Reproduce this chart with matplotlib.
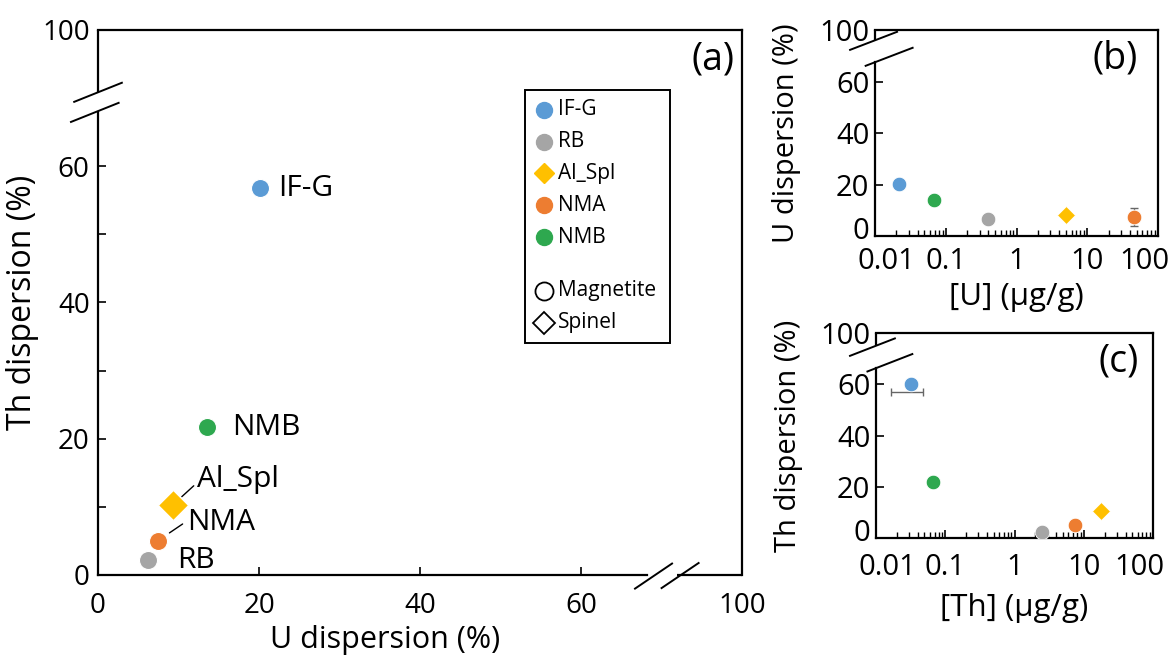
import matplotlib
matplotlib.use('Agg')
import matplotlib.pyplot as plt
from matplotlib.lines import Line2D
from matplotlib.ticker import LogLocator, NullFormatter
from matplotlib.transforms import ScaledTranslation

plt.rcParams['font.family'] = ['Open Sans', 'DejaVu Sans']

# samples and styles
samples = ['IF-G', 'RB', 'Al_Spl', 'NMA', 'NMB']
colors = ['#5B9BD5', '#A5A5A5', '#FFC000', '#ED7D31', '#2EA84F']
markers = ['o', 'o', 'D', 'o', 'o']

# panel (a): Th dispersion vs U dispersion (%)
u_disp = [20.1, 6.2, 9.3, 7.4, 13.5]
th_disp = [56.8, 2.2, 10.3, 5.0, 21.7]

# panel (b): U dispersion vs [U] (ug/g)
u_conc = [0.022, 0.40, 5.0, 46.0, 0.069]
u_disp_b = [20.2, 6.5, 8.1, 7.2, 13.8]
u_conc_err = [0.003, 0, 0, 0, 0]
u_disp_b_err = [0, 0, 0, 3.5, 0]

# panel (c): Th dispersion vs [Th] (ug/g)
th_conc = [0.032, 2.5, 17.8, 7.4, 0.066]
th_disp_c = [60.0, 2.3, 10.5, 5.1, 21.7]
ifg_th_err_y = 57.0
ifg_th_conc_err = 0.0155

disp_ticks = [0, 20, 40, 60, 80]
disp_ticklabels = ['0', '20', '40', '60', '100']
log_ticks = [0.01, 0.1, 1, 10, 100]
log_ticklabels = ['0.01', '0.1', '1', '10', '100']

LW = 1.6


def shift(label, dx, dy):
    label.set_transform(label.get_transform() + ScaledTranslation(dx / 72, dy / 72, fig.dpi_scale_trans))


def break_y(ax, lo, hi, slashes, hw, hh):
    ymin, ymax = ax.get_ylim()
    ax.spines['left'].set_bounds(ymin, lo)
    ax.plot([0, 0], [hi, ymax], transform=ax.get_yaxis_transform(), color='k',
            lw=LW, clip_on=False, solid_capstyle='butt', zorder=5)
    for cx, cy in slashes:
        ax.plot([cx - hw, cx + hw], [cy - hh, cy + hh], transform=ax.get_yaxis_transform(),
                color='k', lw=1.4, clip_on=False, zorder=6)


def break_x(ax, lo, hi, slashes, hw, hh):
    xmin, xmax = ax.get_xlim()
    ax.spines['bottom'].set_bounds(xmin, lo)
    ax.plot([hi, xmax], [0, 0], transform=ax.get_xaxis_transform(), color='k',
            lw=LW, clip_on=False, solid_capstyle='butt', zorder=5)
    for cx, cy in slashes:
        ax.plot([cx - hw, cx + hw], [cy - hh, cy + hh], transform=ax.get_xaxis_transform(),
                color='k', lw=1.4, clip_on=False, zorder=6)


def setup_log(ax, pad):
    ax.set_xscale('log')
    ax.set_xlim(0.01, 100)
    ax.set_xticks(log_ticks)
    ax.set_xticklabels(log_ticklabels)
    ax.xaxis.set_minor_locator(LogLocator(base=10, subs=range(2, 10), numticks=20))
    ax.xaxis.set_minor_formatter(NullFormatter())
    ax.tick_params(axis='x', which='minor', direction='in', length=4, width=1.0)
    ax.tick_params(axis='x', which='major', length=5.5, pad=pad, labelsize=21)
    ax.tick_params(axis='y', pad=4, labelsize=21)
    # edge labels sit a little inside, as in the original
    xl = ax.get_xticklabels()
    shift(xl[0], 8, 0)
    shift(xl[-1], -10, 0)
    shift(ax.get_yticklabels()[0], 0, 6)


fig = plt.figure(figsize=(11.74, 6.6), dpi=100)
ax_a = fig.add_axes([0.0835, 0.1288, 0.5486, 0.8258])
ax_b = fig.add_axes([0.7453, 0.6424, 0.2411, 0.3121])
ax_c = fig.add_axes([0.7462, 0.1848, 0.2360, 0.3106])

for ax in (ax_a, ax_b, ax_c):
    for s in ax.spines.values():
        s.set_linewidth(LW)
    ax.set_ylim(0, 80)
    ax.set_yticks(disp_ticks)
    ax.set_yticklabels(disp_ticklabels)
    ax.tick_params(direction='in', labelsize=20, width=1.2, length=6)

# ---- panel (a)
ax_a.set_xlim(0, 80)
ax_a.set_xticks(disp_ticks)
ax_a.set_xticklabels(disp_ticklabels)
ax_a.set_yticks([10, 30, 50], minor=True)
ax_a.tick_params(axis='y', which='both', direction='in', width=1.2, length=6, pad=6)
ax_a.tick_params(axis='x', pad=12)
for i in range(len(samples)):
    ax_a.plot(u_disp[i], th_disp[i], marker=markers[i], color=colors[i], ls='none',
              ms=15 if markers[i] == 'D' else 13, mec='white', mew=0.8, zorder=4)

label_off = {'IF-G': (13, 0), 'NMB': (18, 0), 'Al_Spl': (17, 18), 'NMA': (21.5, 13.5), 'RB': (21, 0)}
for i, name in enumerate(samples):
    ax_a.annotate(name, (u_disp[i], th_disp[i]), xytext=label_off[name], textcoords='offset points',
                  ha='left', va='center', fontsize=21.5)
leaders = {'Al_Spl': ((15, 13.7), 8.7), 'NMA': ((18, 12.2), 10.3)}
for i, name in enumerate(samples):
    if name in leaders:
        xyt, shr = leaders[name]
        ax_a.annotate('', (u_disp[i], th_disp[i]), xytext=xyt, textcoords='offset points',
                      arrowprops=dict(arrowstyle='-', color='k', lw=1.0, shrinkA=0, shrinkB=shr))

ax_a.set_xlabel('U dispersion (%)', fontsize=22)
ax_a.xaxis.set_label_coords(0.446, -0.092)
ax_a.set_ylabel('Th dispersion (%)', fontsize=23)
ax_a.yaxis.set_label_coords(-0.092, 0.5)
ax_a.text(0.955, 0.945, '(a)', transform=ax_a.transAxes, ha='center', va='center', fontsize=27)

break_y(ax_a, 67.9, 70.85, [(0.0, 70.85), (-0.005, 67.9)], 0.037, 1.4)
break_x(ax_a, 68.2, 71.9, [(69.0, -0.002), (72.3, -0.001)], 2.3, 0.023)

handles = [Line2D([], [], marker=m, color=c, ls='none', ms=(10.5 if m == 'D' else 11.5))
           for m, c in zip(markers, colors)]
handles.append(Line2D([], [], ls='none'))
handles.append(Line2D([], [], marker='o', mfc='none', mec='k', mew=1.3, ls='none', ms=13))
handles.append(Line2D([], [], marker='D', mfc='none', mec='k', mew=1.3, ls='none', ms=11))
labels = samples + [' ', 'Magnetite', 'Spinel']
leg = ax_a.legend(handles, labels, loc='upper left', bbox_to_anchor=(0.663, 0.89, 0.225, 0.0),
                  mode='expand', borderaxespad=0, fontsize=15, frameon=True, fancybox=False,
                  edgecolor='k', framealpha=1, handlelength=0.95, handletextpad=0.2,
                  borderpad=0.45, labelspacing=0.52, handleheight=0.15)
leg.get_frame().set_linewidth(1.4)
leg.get_texts()[5].set_fontsize(1)

# ---- panel (b)
setup_log(ax_b, 8)
ax_b.errorbar(u_conc, u_disp_b, xerr=u_conc_err, yerr=u_disp_b_err, fmt='none',
              ecolor='#666666', elinewidth=1.0, capsize=3, zorder=2)
for i in range(len(samples)):
    ax_b.plot(u_conc[i], u_disp_b[i], marker=markers[i], color=colors[i], ls='none',
              ms=9 if markers[i] == 'D' else 10.5, mec='white', mew=0.6, zorder=4)
ax_b.set_xlabel('[U] (µg/g)', fontsize=22.5, labelpad=4)
ax_b.set_ylabel('U dispersion (%)', fontsize=21)
ax_b.yaxis.set_label_coords(-0.26, 0.5)
ax_b.text(0.848, 0.86, '(b)', transform=ax_b.transAxes, ha='center', va='center', fontsize=27)
break_y(ax_b, 67.7, 76.0, [(-0.005, 75.8), (0.05, 69.6)], 0.083, 3.5)

# ---- panel (c)
setup_log(ax_c, 11)
ax_c.errorbar([th_conc[0]], [ifg_th_err_y], xerr=[ifg_th_conc_err], fmt='none',
              ecolor='#666666', elinewidth=1.0, capsize=3, zorder=2)
for i in range(len(samples)):
    ax_c.plot(th_conc[i], th_disp_c[i], marker=markers[i], color=colors[i], ls='none',
              ms=9 if markers[i] == 'D' else 10.5, mec='white', mew=0.6, zorder=4)
ax_c.set_xlabel('[Th] (µg/g)', fontsize=22.5, labelpad=8)
ax_c.set_ylabel('Th dispersion (%)', fontsize=21)
ax_c.yaxis.set_label_coords(-0.265, 0.5)
ax_c.text(0.874, 0.86, '(c)', transform=ax_c.transAxes, ha='center', va='center', fontsize=27)
break_y(ax_c, 66.4, 75.1, [(-0.013, 74.5), (0.05, 68.4)], 0.081, 3.4)

fig.savefig('out.png', dpi=100)
